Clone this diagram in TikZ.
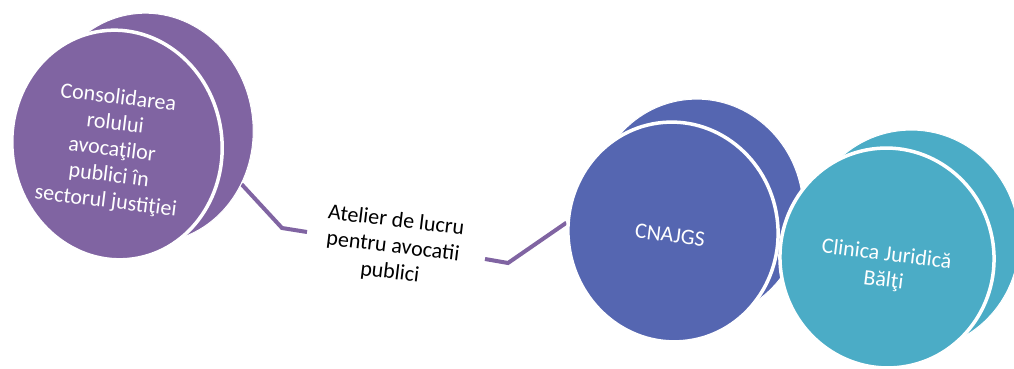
\documentclass[tikz,border=0pt]{standalone}
\usepackage{fontspec}
\setmainfont{Carlito}
\usepackage{tikz}
\usetikzlibrary{shapes.geometric,positioning,backgrounds}
\definecolor{discpurple}{HTML}{8064A2}
\definecolor{discblue}{HTML}{5566B1}
\definecolor{discaqua}{HTML}{4BACC6}
\tikzset{>=stealth}

\begin{document}
\begin{tikzpicture}[x=1pt,y=1pt]
  \tikzset{disc back/.style = {ellipse,inner sep=0pt,rotate=8,fill=#1,draw=white,line width=1pt}}
  \tikzset{disc front/.style = {ellipse,inner sep=0pt,rotate=8,fill=#1,draw=white,line width=3.5pt}}
  \tikzset{disc text/.style = {text=white,align=center,rotate=-7,font=\fontsize{22}{26}\selectfont}}
  \tikzset{link/.style = {draw=discpurple,line width=4pt}}

  \useasboundingbox (0,0) rectangle (1014,369);

  % purple disc
  \node[disc back=discpurple,minimum width=210pt,minimum height=230pt] (consback) at (148,241) {};
  \node[disc front=discpurple,minimum width=210pt,minimum height=230pt] (cons) at (117,224) {};
  \node[disc text] (constext) at (112,219)
    {Consolidarea\\rolului\\avocaţilor\\publici în\\sectorul justiţiei};

  % blue and aqua discs
  \node[disc back=discblue,minimum width=210pt,minimum height=220pt] (cnajgsback) at (698,160) {};
  \node[disc front=discblue,minimum width=210pt,minimum height=220pt] (cnajgs) at (673,137) {};
  \node[disc text] (cnajgstext) at (670,134) {CNAJGS};

  \node[disc back=discaqua,minimum width=214pt,minimum height=220pt] (clinicaback) at (912,129) {};
  \node[disc front=discaqua,minimum width=214pt,minimum height=220pt] (clinica) at (887,111) {};
  \node[disc text] (clinicatext) at (885,101) {Clinica Juridică\\Bălţi};

  \node[disc text,text=black] (atelier) at (393,122) {Atelier de lucru\\pentru avocatii\\publici};

  \coordinate (k1) at (282,141);
  \coordinate (k2) at (307,137);
  \coordinate (k3) at (485,110);
  \coordinate (k4) at (508,106);

  \begin{scope}[on background layer]
    \draw[link] (consback.-39) -- (k1) -- (k2);
    \draw[link] (k3) -- (k4) -- (cnajgs.167);
  \end{scope}
\end{tikzpicture}
\end{document}
